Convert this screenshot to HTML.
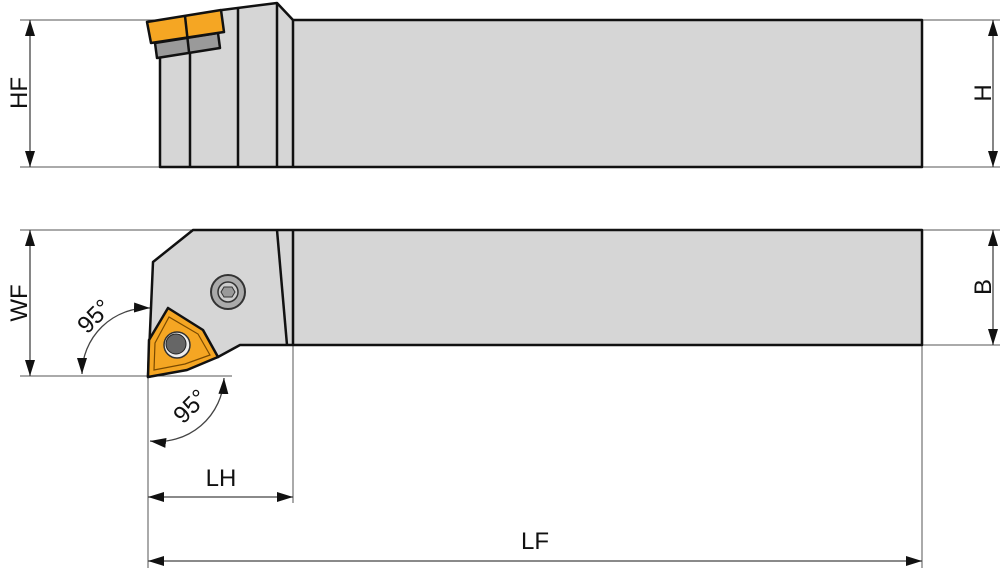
<!DOCTYPE html>
<html><head><style>html,body{margin:0;padding:0;background:#fff;}svg{display:block}</style></head>
<body>
<svg width="1000" height="571" viewBox="0 0 1000 571" xmlns="http://www.w3.org/2000/svg" font-family="Liberation Sans, sans-serif">
<defs>
<marker id="a" viewBox="0 0 16 10" refX="16" refY="5" markerWidth="16" markerHeight="10" orient="auto-start-reverse" markerUnits="userSpaceOnUse"><path d="M0,0L16,5L0,10z" fill="#111"/></marker>
</defs>
<g stroke="#555" stroke-width="1" fill="none">
<line x1="20" y1="20" x2="160" y2="20"/><line x1="20" y1="167" x2="160" y2="167"/>
<line x1="922" y1="20" x2="1000" y2="20"/><line x1="922" y1="167" x2="1000" y2="167"/>
<line x1="20" y1="230" x2="193" y2="230"/><line x1="20" y1="376" x2="232" y2="376"/>
<line x1="922" y1="230" x2="1000" y2="230"/><line x1="922" y1="345" x2="1000" y2="345"/>
<line x1="148" y1="376" x2="148" y2="568"/><line x1="293" y1="345" x2="293" y2="503"/>
<line x1="922" y1="345" x2="922" y2="568"/>
</g>
<g stroke="#444" stroke-width="1.3" fill="none">
<line x1="30" y1="20" x2="30" y2="167" marker-start="url(#a)" marker-end="url(#a)"/>
<line x1="993" y1="20" x2="993" y2="167" marker-start="url(#a)" marker-end="url(#a)"/>
<line x1="30" y1="230" x2="30" y2="376" marker-start="url(#a)" marker-end="url(#a)"/>
<line x1="993" y1="230" x2="993" y2="345" marker-start="url(#a)" marker-end="url(#a)"/>
<line x1="148" y1="497" x2="293" y2="497" marker-start="url(#a)" marker-end="url(#a)"/>
<line x1="148" y1="561" x2="922" y2="561" marker-start="url(#a)" marker-end="url(#a)"/>
<path d="M82,374 A66,66 0 0 1 150,308" marker-start="url(#a)" marker-end="url(#a)"/>
<path d="M150,441 A66,66 0 0 0 224,378" marker-start="url(#a)" marker-end="url(#a)"/>
</g>
<g stroke="#111" stroke-width="2.5" fill="#d6d6d6" stroke-linejoin="round">
<path d="M160,167 L160,55 L222,10 L277,3 L293,20 L922,20 L922,167 Z"/>
<line x1="190" y1="52" x2="190" y2="167"/>
<line x1="238" y1="8" x2="238" y2="167"/>
<line x1="277" y1="3" x2="277" y2="167"/>
<line x1="293" y1="20" x2="293" y2="167"/>
<path d="M155,43 L218,33 L220,48 L157,58 Z" fill="#9a9a9a"/>
<path d="M147,22 L221,10 L224,32 L151,43 Z" fill="#f5a623"/>
<line x1="185" y1="16" x2="189" y2="52"/>
</g>
<g stroke="#111" stroke-width="2.5" fill="#d6d6d6" stroke-linejoin="round">
<path d="M193,230 L922,230 L922,345 L240,345 L218,357 L148,377 L153,262 Z"/>
<line x1="277" y1="230" x2="287" y2="345"/>
<line x1="293" y1="230" x2="293" y2="345"/>
</g>
<circle cx="228" cy="292" r="17" fill="#aaa" stroke="#333" stroke-width="2"/>
<circle cx="228" cy="292" r="10" fill="#ccc" stroke="#333" stroke-width="1.5"/>
<polygon points="224,287 232,287 235,292 232,297 224,297 221,292" fill="#999" stroke="#333"/>
<polygon points="148,377 149,340 168,308 203,330 218,357 187,370" fill="#f5a623" stroke="#111" stroke-width="2.5" stroke-linejoin="round"/>
<polygon points="154,370 155,343 169,317 198,334 210,355 185,364" fill="none" stroke="#7a4a00" stroke-width="1.2"/>
<circle cx="177" cy="345" r="13" fill="#eee" stroke="#333" stroke-width="1.5"/>
<circle cx="176" cy="344" r="10" fill="#666" stroke="#222" stroke-width="1"/>
<g fill="#111" font-size="24">
<text transform="translate(27,93) rotate(-90)" text-anchor="middle">HF</text>
<text transform="translate(991,93) rotate(-90)" text-anchor="middle">H</text>
<text transform="translate(27,303) rotate(-90)" text-anchor="middle">WF</text>
<text transform="translate(991,287) rotate(-90)" text-anchor="middle">B</text>
<text x="221" y="486" text-anchor="middle">LH</text>
<text x="535" y="549" text-anchor="middle">LF</text>
<text transform="translate(100,322) rotate(-45)" text-anchor="middle">95°</text>
<text transform="translate(196,412) rotate(-45)" text-anchor="middle">95°</text>
</g>
</svg>
</body></html>
